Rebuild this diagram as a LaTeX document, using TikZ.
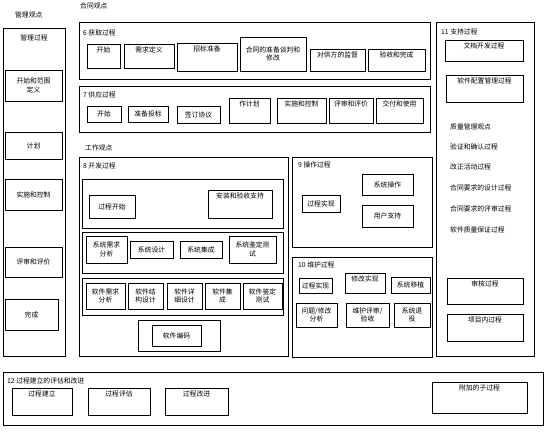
\documentclass[tikz,border=0pt]{standalone}
\usepackage{fontspec}
\setmainfont{Noto Sans CJK SC}
\usetikzlibrary{positioning}
\newcommand{\cnsz}{\fontsize{6.8}{8.4}\selectfont}
\tikzset{
  %% outer frame of a process group
  pframe/.style={
    rectangle, draw=black, line width=1pt,
    inner sep=0pt
  },
  %% activity box, text centred
  act/.style={
    rectangle, draw=black, line width=0.8pt,
    align=center, font=\cnsz, inner sep=1pt
  },
  %% activity box, text at the top
  topbox/.style={
    act, inner ysep=3pt, text height=5pt, text depth=#1
  },
  topbox/.default=12pt,
  %% titles and plain texts
  ttl/.style={anchor=west, font=\cnsz, inner sep=0pt},
}

\begin{document}
\begin{tikzpicture}[x=1pt, y=-1pt]
  \useasboundingbox (0,0) rectangle (556,431);

  %% ---- management view (left) ----
  \node[ttl] (vmgmt) at (15,15) {管理观点};
  \node[pframe, minimum width=62pt, minimum height=328pt] (mgmt) at (34,192) {};
  \node[ttl, anchor=center] (mgmtt) at (34,38) {管理过程};
  \node[act, minimum width=57pt, minimum height=31pt] (m1) at (33.5,85.5)
       {开始和范围\\定义};
  \node[act, minimum width=57pt, minimum height=27pt] (m2) at (33.5,145.5) {计划};
  \node[act, minimum width=57pt, minimum height=31pt] (m3) at (33.5,194.5) {实施和控制};
  \node[act, minimum width=57pt, minimum height=30pt] (m4) at (33.5,262) {评审和评价};
  \node[act, minimum width=53pt, minimum height=31pt] (m5) at (31.5,314.5) {完成};

  %% ---- contract view ----
  \node[ttl] (vcontr) at (80,6) {合同观点};

  %% 6 acquisition
  \node[pframe, minimum width=351pt, minimum height=57pt] (acq) at (254.5,50.5) {};
  \node[ttl] (acqt) at (83,33) {6 获取过程};
  \node[topbox=13pt, minimum width=33pt] (a1) at (103.5,56) {开始};
  \node[topbox=13pt, minimum width=50pt] (a2) at (149,56) {需求定义};
  \node[topbox=17pt, minimum width=60pt] (a3) at (207,57) {招标准备};
  \node[act, minimum width=66pt, minimum height=34pt] (a4) at (273,54)
       {合同的准备谈判和\\修改};
  \node[topbox=11pt, minimum width=55pt] (a5) at (337.5,60) {对供方的监督};
  \node[topbox=11pt, minimum width=57pt] (a6) at (396.5,60) {验收和完成};

  %% 7 supply
  \node[pframe, minimum width=351pt, minimum height=46pt] (splp) at (254.5,109) {};
  \node[ttl] (splt) at (83,95) {7 供应过程};
  \node[act, minimum width=34pt, minimum height=16pt] (s1) at (104,114) {开始};
  \node[act, minimum width=40pt, minimum height=16pt] (s2) at (148,114) {准备投标};
  \node[act, minimum width=43pt, minimum height=17pt] (s3) at (198.5,114.5) {签订协议};
  \node[topbox=14pt, minimum width=41pt] (s4) at (249.5,110.5) {作计划};
  \node[topbox=14pt, minimum width=49pt] (s5) at (301.5,110.5) {实施和控制};
  \node[topbox=14pt, minimum width=44pt] (s6) at (351,110.5) {评审和评价};
  \node[topbox=14pt, minimum width=47pt] (s7) at (399.5,110.5) {交付和使用};

  %% ---- work view ----
  \node[ttl] (vwork) at (85,148) {工作观点};

  %% 8 development
  \node[pframe, minimum width=209pt, minimum height=199pt] (dev) at (183.5,256.5) {};
  \node[ttl] (devt) at (83,166) {8 开发过程};
  \node[pframe, minimum width=201pt, minimum height=49pt] (devA) at (182.5,203.5) {};
  \node[act, minimum width=46pt, minimum height=23pt] (d1) at (112,206.5) {过程开始};
  \node[topbox=17pt, minimum width=64pt] (d2) at (240,204) {安装和验收支持};
  \node[pframe, minimum width=201pt, minimum height=41pt] (devB) at (182.5,252.5) {};
  \node[act, minimum width=41pt, minimum height=27pt] (d3) at (106.5,249.5)
       {系统需求\\分析};
  \node[act, minimum width=43pt, minimum height=17pt] (d4) at (151.5,249.5) {系统设计};
  \node[act, minimum width=42pt, minimum height=17pt] (d5) at (201,249.5) {系统集成};
  \node[act, minimum width=47pt, minimum height=27pt] (d6) at (252.5,249.5)
       {系统鉴定测\\试};
  \node[pframe, minimum width=201pt, minimum height=37pt] (devC) at (182.5,296.5) {};
  \node[act, minimum width=39pt, minimum height=26pt] (d7) at (105.5,296)
       {软件需求\\分析};
  \node[act, minimum width=35pt, minimum height=26pt] (d8) at (145.5,296)
       {软件结\\构设计};
  \node[act, minimum width=35pt, minimum height=26pt] (d9) at (184.5,296)
       {软件详\\细设计};
  \node[act, minimum width=35pt, minimum height=26pt] (d10) at (222.5,296)
       {软件集\\成};
  \node[act, minimum width=39pt, minimum height=26pt] (d11) at (262.5,296)
       {软件鉴定\\测试};
  \node[pframe, minimum width=82pt, minimum height=31pt] (devD) at (179,335.5) {};
  \node[act, minimum width=49pt, minimum height=21pt] (d12) at (176.5,335.5) {软件编码};

  %% 9 operation
  \node[pframe, minimum width=140pt, minimum height=90pt] (ops) at (362,202) {};
  \node[ttl] (opst) at (298,165) {9 操作过程};
  \node[act, minimum width=38pt, minimum height=17pt] (o1) at (321,203.5) {过程实现};
  \node[act, minimum width=51pt, minimum height=21pt] (o2) at (387.5,184.5) {系统操作};
  \node[act, minimum width=51pt, minimum height=22pt] (o3) at (387.5,216) {用户支持};

  %% 10 maintenance
  \node[pframe, minimum width=140pt, minimum height=100pt] (mnt) at (362,307) {};
  \node[ttl] (mntt) at (298,265) {10 维护过程};
  \node[act, minimum width=33pt, minimum height=15pt] (n1) at (315.5,285.5) {过程实现};
  \node[topbox=9pt, minimum width=40pt] (n2) at (365,283) {修改实现};
  \node[act, minimum width=39pt, minimum height=16pt] (n3) at (410.5,285) {系统移植};
  \node[act, minimum width=41pt, minimum height=24pt] (n4) at (316.5,315)
       {问题/修改\\分析};
  \node[act, minimum width=43pt, minimum height=24pt] (n5) at (367.5,315)
       {维护评审/\\验收};
  \node[act, minimum width=36pt, minimum height=24pt] (n6) at (412,315)
       {系统退\\役};

  %% ---- 11 support ----
  \node[pframe, minimum width=98pt, minimum height=334pt] (spt) at (485,189) {};
  \node[ttl] (sptt) at (441,32) {11 支持过程};
  \node[topbox=10pt, minimum width=78pt] (t1) at (484,50.5) {文档开发过程};
  \node[topbox=16pt, minimum width=77pt] (t2) at (484.5,88.5) {软件配置管理过程};
  \node[ttl] (q1) at (450,127) {质量管理观点};
  \node[ttl] (q2) at (450,147) {验证和确认过程};
  \node[ttl] (q3) at (450,167) {改正活动过程};
  \node[ttl] (q4) at (450,188) {合同要求的设计过程};
  \node[ttl] (q5) at (450,209) {合同要求的评审过程};
  \node[ttl] (q6) at (450,230) {软件质量保证过程};
  \node[topbox=15pt, minimum width=76pt] (t3) at (485,291) {审核过程};
  \node[topbox=16pt, minimum width=76pt] (t4) at (485,327.5) {项目内过程};

  %% ---- 12 process improvement ----
  \node[pframe, minimum width=540pt, minimum height=53pt] (pim) at (273,398.5) {};
  \node[ttl] (pimt) at (7,381) {12 过程建立的评估和改进};
  \node[topbox=16pt, minimum width=60pt] (b1) at (42,401.5) {过程建立};
  \node[topbox=16pt, minimum width=62pt] (b2) at (119,401.5) {过程评估};
  \node[topbox=16pt, minimum width=63pt] (b3) at (196.5,401.5) {过程改进};
  \node[topbox=20pt, minimum width=95pt] (b4) at (479.5,397.5) {附加的子过程};

\end{tikzpicture}
\end{document}
